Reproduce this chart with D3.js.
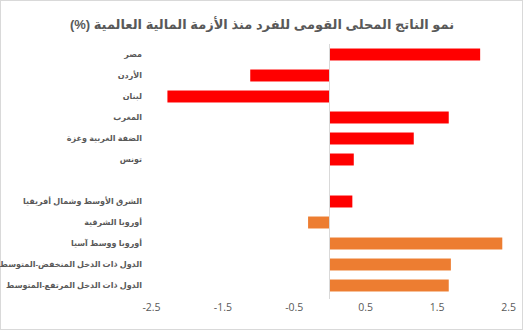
<!DOCTYPE html>
<html lang="ar">
<head>
<meta charset="utf-8">
<title>نمو الناتج المحلى القومى للفرد</title>
<script src="https://cdn.jsdelivr.net/npm/d3@7"></script>
<style>
  body { margin: 0; background: #fff; }
  svg { display: block; }
</style>
</head>
<body>
<script>
// categories, top to bottom (blank row separates the two groups)
var categories = ["مصر", "الأردن", "لبنان", "المغرب", "الضفة الغربية وغزة", "تونس", " ",
                  "الشرق الأوسط وشمال أفريقيا", "أوروبا الشرقية", "أوروبا ووسط آسيا",
                  "الدول ذات الدخل المنخفض-المتوسط", "الدول ذات الدخل المرتفع-المتوسط"];
var values = [2.11, -1.11, -2.27, 1.67, 1.18, 0.34, null, 0.32, -0.30, 2.42, 1.70, 1.67];
var groups = ["red", "red", "red", "red", "red", "red", null, "red", "orange", "orange", "orange", "orange"];
var tickValues = [-2.5, -1.5, -0.5, 0.5, 1.5, 2.5];
var title = "نمو الناتج المحلى القومى للفرد منذ الأزمة المالية العالمية (%)";

var W = 523, H = 330;
var colors = { red: "#ff0000", orange: "#ed7d31" };

var svg = d3.select("body").append("svg")
    .attr("width", W)
    .attr("height", H);

// chart border
svg.append("rect")
    .attr("x", 0.5).attr("y", 0.5)
    .attr("width", W - 1).attr("height", H - 1)
    .attr("fill", "#fff")
    .attr("stroke", "#d9d9d9");

svg.append("text")
    .attr("x", 262).attr("y", 29)
    .attr("text-anchor", "middle")
    .attr("direction", "rtl")
    .attr("font-family", "Liberation Sans, DejaVu Sans, sans-serif")
    .attr("font-weight", "bold")
    .attr("font-size", 13)
    .attr("fill", "#595959")
    .text(title);

var x = d3.scaleLinear().domain([-2.5, 2.5]).range([151, 508]);
var y = d3.scaleBand().domain(categories).range([44, 296]).paddingInner(0.43).paddingOuter(0.215);

// bars
svg.append("g").selectAll("rect")
    .data(categories.map(function(c, i) { return { c: c, v: values[i], g: groups[i] }; })
      .filter(function(d) { return d.v !== null; }))
    .enter().append("rect")
    .attr("x", function(d) { return x(Math.min(0, d.v)); })
    .attr("y", function(d) { return y(d.c); })
    .attr("width", function(d) { return Math.abs(x(d.v) - x(0)); })
    .attr("height", y.bandwidth())
    .attr("fill", function(d) { return colors[d.g]; });

// zero line
svg.append("line")
    .attr("x1", x(0)).attr("x2", x(0))
    .attr("y1", 44).attr("y2", 299)
    .attr("stroke", "#d9d9d9")
    .attr("stroke-width", 1);

// category labels
svg.append("g").selectAll("text")
    .data(categories)
    .enter().append("text")
    .attr("x", 142)
    .attr("y", function(d) { return y(d) + y.bandwidth() / 2; })
    .attr("dy", "0.35em")
    .attr("text-anchor", "start")
    .attr("direction", "rtl")
    .attr("font-family", "Liberation Sans, DejaVu Sans, sans-serif")
    .attr("font-size", 8)
    .attr("font-weight", "bold")
    .attr("fill", "#595959")
    .text(function(d) { return d.trim(); });

// x axis tick labels
var xAxis = d3.axisBottom(x).tickValues(tickValues).tickSize(0).tickPadding(0)
    .tickFormat(function(d) { return String(d); });
var gx = svg.append("g").attr("transform", "translate(0,304)").call(xAxis);
gx.select(".domain").remove();
gx.selectAll("text")
    .attr("font-family", "Open Sans, Liberation Sans, sans-serif")
    .attr("font-size", 10.5)
    .attr("fill", "#595959");
</script>
</body>
</html>
